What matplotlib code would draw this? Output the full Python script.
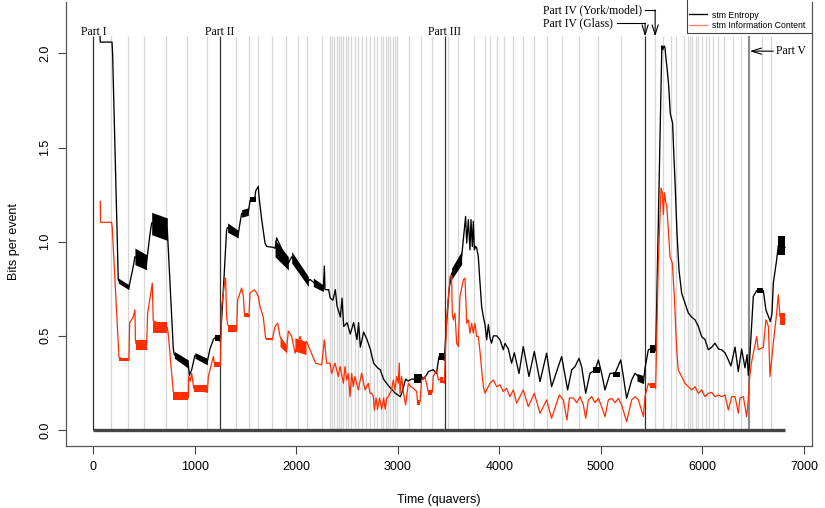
import matplotlib
matplotlib.use("Agg")
import matplotlib.pyplot as plt

plt.rcParams['font.family'] = ['Liberation Sans', 'DejaVu Sans']

# stm Entropy (black) - traced centre line
ent_x = [66, 69, 184, 190, 246, 351, 394, 410, 525, 558,
         575, 729, 788, 798, 936, 946, 969, 1001, 1123, 1149,
         1182, 1199, 1244, 1251, 1281, 1313, 1323, 1428, 1445, 1461,
         1527, 1545, 1560, 1593, 1600, 1625, 1632, 1658, 1691, 1707,
         1773, 1790, 1806, 1921, 1954, 2118, 2134, 2167, 2266, 2276,
         2282, 2318, 2334, 2360, 2384, 2400, 2433, 2450, 2466, 2500,
         2531, 2564, 2597, 2613, 2630, 2663, 2696, 2728, 2761, 2800,
         2826, 2859, 2900, 2950, 2975, 3024, 3040, 3056, 3076, 3100,
         3135, 3160, 3240, 3251, 3280, 3300, 3349, 3380, 3405, 3450,
         3457, 3480, 3504, 3529, 3628, 3661, 3667, 3678, 3694, 3710,
         3720, 3733, 3743, 3753, 3766, 3776, 3792, 3809, 3825, 3842,
         3858, 3875, 3891, 3907, 3923, 3940, 3973, 4005, 4038, 4055,
         4088, 4120, 4147, 4193, 4235, 4291, 4344, 4400, 4465, 4514,
         4613, 4672, 4712, 4745, 4784, 4810, 4850, 4892, 4942, 4975,
         5007, 5040, 5090, 5139, 5195, 5221, 5253, 5303, 5336, 5369,
         5418, 5434, 5467, 5484, 5533, 5540, 5600, 5610, 5622, 5631,
         5641, 5650, 5667, 5683, 5706, 5716, 5732, 5749, 5769, 5795,
         5828, 5861, 5894, 5927, 5960, 5992, 6025, 6058, 6091, 6124,
         6157, 6189, 6222, 6255, 6280, 6321, 6353, 6386, 6419, 6440,
         6452, 6462, 6501, 6534, 6600, 6625, 6669, 6685, 6698, 6731,
         6747, 6813]
ent_y = [2.09, 2.06, 2.06, 2.00, 0.795, 0.758, 0.87, 0.92, 0.89, 1.04,
         1.10, 1.065, 0.43, 0.40, 0.35, 0.29, 0.32, 0.396, 0.363, 0.43,
         0.48, 0.49, 0.49, 0.47, 0.745, 1.064, 1.075, 1.04, 1.10, 1.15,
         1.16, 1.22, 1.22, 1.24, 1.27, 1.294, 1.24, 1.12, 0.993, 0.975,
         0.97, 0.965, 1.02, 0.885, 0.92, 0.79, 0.80, 0.785, 0.75, 0.87,
         0.745, 0.745, 0.70, 0.69, 0.745, 0.66, 0.60, 0.70, 0.55, 0.57,
         0.51, 0.57, 0.48, 0.57, 0.44, 0.52, 0.48, 0.43, 0.355, 0.33,
         0.32, 0.27, 0.24, 0.21, 0.195, 0.177, 0.20, 0.23, 0.27, 0.26,
         0.27, 0.27, 0.28, 0.27, 0.29, 0.31, 0.32, 0.30, 0.39, 0.39,
         0.37, 0.57, 0.745, 0.83, 0.92, 1.10, 1.134, 0.993, 1.117, 0.957,
         1.117, 0.975, 1.108, 0.957, 0.975, 0.966, 0.922, 0.78, 0.656, 0.60,
         0.56, 0.479, 0.56, 0.49, 0.461, 0.50, 0.50, 0.48, 0.426, 0.46,
         0.43, 0.355, 0.41, 0.30, 0.443, 0.284, 0.417, 0.257, 0.408, 0.23,
         0.39, 0.213, 0.319, 0.337, 0.381, 0.337, 0.195, 0.301, 0.319, 0.372,
         0.301, 0.213, 0.301, 0.301, 0.372, 0.284, 0.168, 0.266, 0.301, 0.284,
         0.248, 0.328, 0.426, 0.43, 0.43, 0.42, 2.04, 2.02, 2.04, 2.03,
         1.97, 1.93, 1.83, 1.68, 1.63, 1.49, 1.29, 1.046, 0.85, 0.727,
         0.674, 0.621, 0.60, 0.585, 0.55, 0.496, 0.48, 0.426, 0.44, 0.461,
         0.43, 0.426, 0.41, 0.372, 0.34, 0.44, 0.31, 0.43, 0.33, 0.40,
         0.29, 0.35, 0.709, 0.74, 0.74, 0.638, 0.576, 0.62, 0.78, 0.904,
         0.98, 0.97]
# thick oscillating stretches: (x0, x1, low0, high0, low1, high1)
ent_bands = [(246, 351, 0.780, 0.807, 0.745, 0.771),
             (410, 525, 0.878, 0.966, 0.851, 0.931),
             (575, 729, 1.037, 1.156, 1.007, 1.126),
             (798, 936, 0.381, 0.417, 0.328, 0.372),
             (1001, 1123, 0.381, 0.411, 0.346, 0.381),
             (1199, 1244, 0.470, 0.505, 0.470, 0.505),
             (1323, 1428, 1.050, 1.100, 1.020, 1.060),
             (1461, 1527, 1.130, 1.170, 1.140, 1.180),
             (1545, 1600, 1.210, 1.240, 1.210, 1.240),
             (1790, 1921, 0.920, 1.010, 0.850, 0.920),
             (1954, 2118, 0.887, 0.948, 0.762, 0.815),
             (2167, 2266, 0.762, 0.807, 0.735, 0.770),
             (3160, 3240, 0.250, 0.300, 0.250, 0.300),
             (3405, 3450, 0.370, 0.410, 0.370, 0.410),
             (3529, 3628, 0.800, 0.860, 0.880, 0.950),
             (4926, 4995, 0.301, 0.336, 0.301, 0.336),
             (5123, 5192, 0.283, 0.310, 0.283, 0.310),
             (5355, 5414, 0.260, 0.300, 0.248, 0.290),
             (5484, 5533, 0.410, 0.450, 0.410, 0.450),
             (6534, 6600, 0.727, 0.754, 0.727, 0.754),
             (6747, 6813, 0.930, 1.030, 0.930, 1.030)]

# stm Information Content (red)
ic_x = [69, 71, 180, 186, 253, 345, 351, 358, 394, 410,
        415, 420, 525, 535, 558, 581, 590, 729, 740, 788,
        936, 940, 955, 969, 990, 1123, 1133, 1182, 1192, 1251,
        1264, 1297, 1303, 1313, 1323, 1412, 1422, 1461, 1478, 1488,
        1527, 1533, 1543, 1586, 1609, 1625, 1642, 1674, 1697, 1763,
        1790, 1816, 1839, 1905, 1921, 1954, 1987, 2036, 2069, 2101,
        2134, 2190, 2249, 2276, 2298, 2331, 2348, 2364, 2381, 2413,
        2430, 2463, 2479, 2495, 2512, 2528, 2545, 2561, 2577, 2610,
        2643, 2676, 2709, 2725, 2742, 2758, 2768, 2785, 2800, 2820,
        2840, 2860, 2875, 2890, 2906, 2938, 2955, 2971, 2988, 3004,
        3014, 3021, 3037, 3053, 3076, 3103, 3129, 3152, 3185, 3195,
        3218, 3234, 3267, 3300, 3339, 3349, 3382, 3398, 3415, 3447,
        3457, 3480, 3504, 3513, 3529, 3536, 3546, 3562, 3579, 3595,
        3611, 3645, 3661, 3678, 3694, 3710, 3727, 3743, 3759, 3776,
        3792, 3809, 3825, 3842, 3858, 3891, 3907, 3940, 3973, 4005,
        4038, 4071, 4104, 4137, 4170, 4235, 4284, 4344, 4400, 4465,
        4514, 4590, 4630, 4665, 4690, 4728, 4761, 4794, 4827, 4850,
        4876, 4909, 4942, 4975, 5007, 5040, 5073, 5106, 5139, 5172,
        5204, 5253, 5303, 5336, 5369, 5418, 5434, 5467, 5484, 5533,
        5539, 5565, 5592, 5605, 5615, 5625, 5638, 5648, 5664, 5680,
        5703, 5723, 5746, 5762, 5795, 5828, 5861, 5894, 5927, 5960,
        5992, 6025, 6058, 6091, 6124, 6157, 6189, 6222, 6255, 6288,
        6321, 6353, 6370, 6403, 6435, 6450, 6462, 6480, 6534, 6550,
        6600, 6625, 6650, 6665, 6698, 6731, 6747, 6764, 6813]
ic_y = [1.214, 1.103, 1.103, 1.08, 0.385, 0.37, 0.37, 0.57, 0.60, 0.638,
        0.48, 0.46, 0.45, 0.62, 0.70, 0.78, 0.58, 0.545, 0.50, 0.20,
        0.17, 0.284, 0.26, 0.301, 0.22, 0.20, 0.284, 0.39, 0.355, 0.34,
        0.656, 0.798, 0.807, 0.603, 0.559, 0.53, 0.691, 0.754, 0.71, 0.621,
        0.61, 0.60, 0.727, 0.745, 0.727, 0.71, 0.656, 0.60, 0.488, 0.479,
        0.55, 0.567, 0.497, 0.43, 0.526, 0.497, 0.408, 0.497, 0.443, 0.47,
        0.426, 0.355, 0.346, 0.479, 0.355, 0.355, 0.30, 0.33, 0.355, 0.284,
        0.337, 0.248, 0.337, 0.266, 0.30, 0.177, 0.30, 0.23, 0.284, 0.213,
        0.302, 0.213, 0.248, 0.195, 0.195, 0.177, 0.106, 0.17, 0.11, 0.17,
        0.11, 0.17, 0.11, 0.17, 0.177, 0.213, 0.266, 0.213, 0.284, 0.248,
        0.355, 0.195, 0.284, 0.204, 0.133, 0.248, 0.23, 0.222, 0.204, 0.14,
        0.15, 0.266, 0.284, 0.20, 0.20, 0.284, 0.319, 0.266, 0.27, 0.26,
        0.248, 0.585, 0.745, 0.816, 0.82, 0.621, 0.585, 0.62, 0.461, 0.443,
        0.709, 0.798, 0.807, 0.567, 0.585, 0.514, 0.567, 0.514, 0.567, 0.497,
        0.497, 0.417, 0.319, 0.23, 0.195, 0.23, 0.248, 0.266, 0.23, 0.24,
        0.204, 0.222, 0.177, 0.213, 0.142, 0.213, 0.124, 0.195, 0.089, 0.16,
        0.062, 0.186, 0.16, 0.053, 0.17, 0.17, 0.145, 0.177, 0.133, 0.062,
        0.16, 0.177, 0.145, 0.168, 0.124, 0.071, 0.16, 0.168, 0.145, 0.168,
        0.133, 0.044, 0.16, 0.177, 0.16, 0.071, 0.177, 0.248, 0.235, 0.235,
        0.222, 0.887, 1.285, 1.26, 1.144, 1.26, 1.21, 1.19, 1.064, 0.922,
        0.887, 0.709, 0.426, 0.319, 0.284, 0.248, 0.23, 0.213, 0.23, 0.195,
        0.213, 0.177, 0.195, 0.20, 0.177, 0.186, 0.177, 0.186, 0.106, 0.177,
        0.177, 0.089, 0.17, 0.177, 0.071, 0.15, 0.266, 0.35, 0.496, 0.426,
        0.44, 0.585, 0.55, 0.284, 0.461, 0.621, 0.718, 0.60, 0.59]
ic_bands = [(253, 351, 0.365, 0.385, 0.365, 0.385),
            (420, 525, 0.426, 0.479, 0.426, 0.479),
            (590, 729, 0.514, 0.576, 0.514, 0.576),
            (788, 936, 0.160, 0.204, 0.160, 0.204),
            (990, 1123, 0.204, 0.239, 0.204, 0.239),
            (1192, 1251, 0.337, 0.360, 0.337, 0.360),
            (1323, 1412, 0.523, 0.559, 0.523, 0.559),
            (1488, 1527, 0.600, 0.620, 0.600, 0.620),
            (1697, 1763, 0.478, 0.490, 0.478, 0.490),
            (1839, 1905, 0.443, 0.497, 0.408, 0.450),
            (1985, 2095, 0.420, 0.490, 0.400, 0.470),
            (3185, 3218, 0.133, 0.160, 0.133, 0.160),
            (3300, 3339, 0.186, 0.213, 0.186, 0.213),
            (3415, 3447, 0.248, 0.284, 0.248, 0.284),
            (5484, 5533, 0.222, 0.248, 0.222, 0.248),
            (6764, 6813, 0.560, 0.620, 0.560, 0.620)]

# section markers (quavers)
light_lines = [174, 338, 503, 712, 919, 1123, 1402, 1530, 1619, 1757,
               1899, 2020, 2105, 2249, 2334, 2351, 2374, 2397, 2417, 2440,
               2459, 2486, 2505, 2538, 2578, 2607, 2643, 2686, 2722, 2761,
               2797, 2834, 2857, 2883, 2903, 2925, 2949, 2972, 2994, 3107,
               3225, 3340, 3491, 3590, 3747, 3859, 3911, 3977, 4046, 4131,
               4233, 4345, 4466, 4614, 4785, 4975, 5195, 5534, 5616, 5691,
               5741, 5823, 5855, 5880, 5901, 5934, 5960, 5993, 6032, 6066,
               6099, 6151, 6217, 6296, 6378, 6591, 6677]
part_lines = [0, 1244, 3461, 5435]
part_v = 6463
line_top = 2.09
part_labels = ['Part I', 'Part II', 'Part III']

fig = plt.figure(figsize=(8.25, 5.08), dpi=100)
ax = fig.add_axes([66 / 825, 62 / 508, 746 / 825, 444 / 508])

ax.vlines(light_lines, 0, line_top, colors='#d6d6d6', lw=0.9, zorder=1)
ax.vlines(part_lines, 0, line_top, colors='#333333', lw=0.9, zorder=2)
ax.vlines(part_v, 0, line_top, colors='#8a8a8a', lw=1.5, zorder=2)
ax.plot([0, 6813], [0, 0], color='#444444', lw=2.4, solid_capstyle='butt', zorder=3)

ent_line, = ax.plot(ent_x, ent_y, color='black', lw=0.95, zorder=4, label='stm Entropy')
for x0, x1, lo0, hi0, lo1, hi1 in ent_bands:
    ax.fill_between([x0, x1], [lo0, lo1], [hi0, hi1], color='black', lw=0, zorder=4)
ic_line, = ax.plot(ic_x, ic_y, color='#ff2d00', lw=0.9, zorder=5,
                   label='stm Information Content')
for x0, x1, lo0, hi0, lo1, hi1 in ic_bands:
    ax.fill_between([x0, x1], [lo0, lo1], [hi0, hi1], color='#ff2d00', lw=0, zorder=5)

# part annotations
serif = dict(family='Liberation Serif', fontsize=8.4)
for x, lab in zip(part_lines[:3], part_labels):
    ax.text(x, 2.10, lab, ha='center', va='baseline', **serif)
arrow = dict(arrowstyle='->,head_length=0.7,head_width=0.22', color='black', lw=0.8,
             shrinkA=0, shrinkB=0)
ax.text(5404, 2.213, 'Part IV (York/model)', ha='right', va='baseline', **serif)
ax.plot([5435, 5534], [2.23, 2.23], color='black', lw=0.8, clip_on=False)
ax.annotate('', xy=(5534, line_top), xytext=(5534, 2.23), arrowprops=arrow)
ax.text(5116, 2.142, 'Part IV (Glass)', ha='right', va='baseline', **serif)
ax.plot([5155, 5435], [2.16, 2.16], color='black', lw=0.8, clip_on=False)
ax.annotate('', xy=(5435, line_top), xytext=(5435, 2.16), arrowprops=arrow)
ax.text(6724, 1.997, 'Part V', ha='left', va='baseline', **serif)
ax.annotate('', xy=(6467, 2.012), xytext=(6697, 2.012), arrowprops=arrow)

ax.set_xlim(-269, 7079)
ax.set_ylim(-0.085, 2.273)
ax.set_xticks(range(0, 7001, 1000))
ax.set_yticks([0.0, 0.5, 1.0, 1.5, 2.0])
ax.set_yticklabels(['0.0', '0.5', '1.0', '1.5', '2.0'])
ax.tick_params(direction='out', length=5.5, width=0.8, color='#444444',
               labelsize=9, pad=5)
plt.setp(ax.get_yticklabels(), rotation=90, va='center')
ax.spines['top'].set_visible(False)
for s in ['left', 'right', 'bottom']:
    ax.spines[s].set_color('#555555')
    ax.spines[s].set_linewidth(0.9)

ax.set_xlabel('Time (quavers)', fontsize=9)
ax.set_ylabel('Bits per event', fontsize=9)
ax.xaxis.set_label_coords(0.5, -0.108)
ax.yaxis.set_label_coords(-0.062, 0.46)

# legend: frame open at the top, as in the cropped original
leg = fig.legend(handles=[ent_line, ic_line], loc='upper left',
                 bbox_to_anchor=(689 / 825, 1 - 10.5 / 508), frameon=False,
                 fontsize=6.3, handlelength=2.0, handletextpad=0.6,
                 borderpad=0, borderaxespad=0, labelspacing=0.15)
leg.get_lines()[1].set_color('#ff7a66')
fig.add_artist(plt.Line2D([687 / 825, 687 / 825, 812 / 825],
                          [1.0, 1 - 33 / 508, 1 - 33 / 508],
                          transform=fig.transFigure, color='#444444', lw=0.8))

fig.savefig('out.png', dpi=100)
